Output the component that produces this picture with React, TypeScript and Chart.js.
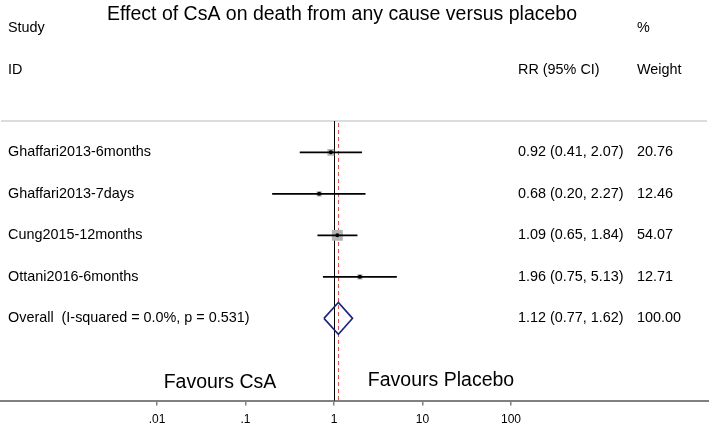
import React, { useEffect, useRef } from "react";
import { Chart, registerables } from "chart.js";
Chart.register(...registerables);

const titleText = "Effect of CsA on death from any cause versus placebo";
const studies = ["Ghaffari2013-6months", "Ghaffari2013-7days", "Cung2015-12months", "Ottani2016-6months"];
const rr = [0.92, 0.68, 1.09, 1.96];
const lower = [0.41, 0.2, 0.65, 0.75];
const upper = [2.07, 2.27, 1.84, 5.13];
const weights = [20.76, 12.46, 54.07, 12.71];
const overallLabel = "Overall  (I-squared = 0.0%, p = 0.531)";
const overallRR = 1.12;
const overallLower = 0.77;
const overallUpper = 1.62;
const overallWeight = 100.0;
const tickValues = [0.01, 0.1, 1, 10, 100];
const tickLabels = [".01", ".1", "1", "10", "100"];

const FONT = "'Liberation Sans', Arial, sans-serif";

export default function App() {
  const ref = useRef<HTMLCanvasElement | null>(null);
  useEffect(() => {
    if (!ref.current) return;
    Chart.defaults.font.family = FONT;
    const n = studies.length;
    const ciDatasets: any[] = studies.map((s, i) => ({
      type: "line",
      data: [{ x: lower[i], y: i }, { x: upper[i], y: i }],
      borderColor: "#000",
      borderWidth: 1.8,
      pointRadius: 0,
      order: 1,
    }));
    const dh = 0.385;
    const textPlugin = {
      id: "forestText",
      beforeDatasetsDraw(chart: any) {
        const { ctx, chartArea, scales } = chart;
        const xs = scales.x;
        ctx.save();
        ctx.strokeStyle = "#d0d0d0";
        ctx.lineWidth = 1.5;
        ctx.beginPath();
        ctx.moveTo(1, 121);
        ctx.lineTo(707, 121);
        ctx.stroke();
        const x1 = Math.round(xs.getPixelForValue(1)) + 0.5;
        ctx.strokeStyle = "#000";
        ctx.lineWidth = 1;
        ctx.beginPath();
        ctx.moveTo(x1, 121);
        ctx.lineTo(x1, chartArea.bottom);
        ctx.stroke();
        const xo = Math.round(xs.getPixelForValue(overallRR)) + 0.5;
        ctx.strokeStyle = "#d9534f";
        ctx.setLineDash([4, 3]);
        ctx.beginPath();
        ctx.moveTo(xo, 123);
        ctx.lineTo(xo, chartArea.bottom);
        ctx.stroke();
        ctx.restore();
      },
      afterDraw(chart: any) {
        const { ctx, scales } = chart;
        const ys = scales.y;
        ctx.save();
        ctx.fillStyle = "#000";
        ctx.textBaseline = "alphabetic";
        ctx.textAlign = "center";
        ctx.font = `19.5px ${FONT}`;
        ctx.fillText(titleText, 342, 20);
        ctx.textAlign = "left";
        ctx.textBaseline = "middle";
        ctx.font = `14.4px ${FONT}`;
        ctx.fillText("Study", 8, 28);
        ctx.fillText("ID", 8, 70);
        ctx.fillText("RR (95% CI)", 518, 70);
        ctx.fillText("%", 637, 28);
        ctx.fillText("Weight", 637, 70);
        const labels = [...studies, overallLabel];
        const r = [...rr, overallRR];
        const lo = [...lower, overallLower];
        const hi = [...upper, overallUpper];
        const w = [...weights, overallWeight];
        labels.forEach((lab, i) => {
          const y = ys.getPixelForValue(i);
          ctx.fillText(lab, 8, y);
          ctx.fillText(`${r[i].toFixed(2)} (${lo[i].toFixed(2)}, ${hi[i].toFixed(2)})`, 518, y);
          ctx.fillText(w[i].toFixed(2), 637, y);
        });
        ctx.font = `19.5px ${FONT}`;
        ctx.textAlign = "center";
        ctx.fillText("Favours CsA", 220, 383);
        ctx.fillText("Favours Placebo", 441, 381);
        ctx.restore();
      },
    };
    const chart = new Chart(ref.current, {
      type: "scatter",
      data: {
        datasets: [
          ...ciDatasets,
          {
            type: "scatter",
            data: rr.map((v, i) => ({ x: v, y: i })),
            pointStyle: "rect",
            pointRadius: weights.map((w) => 1.05 * Math.sqrt(w)),
            backgroundColor: "#b3b3b3",
            borderWidth: 0,
            order: 2,
          },
          {
            type: "scatter",
            data: rr.map((v, i) => ({ x: v, y: i })),
            pointStyle: "circle",
            pointRadius: 2,
            backgroundColor: "#000",
            borderWidth: 0,
            order: 0,
          },
          {
            type: "line",
            data: [
              { x: overallLower, y: n },
              { x: overallRR, y: n - dh },
              { x: overallUpper, y: n },
              { x: overallRR, y: n + dh },
              { x: overallLower, y: n },
            ],
            borderColor: "#1c237a",
            borderWidth: 1.6,
            pointRadius: 0,
            fill: false,
            order: 1,
          },
        ] as any,
      },
      options: {
        animation: false,
        responsive: true,
        maintainAspectRatio: false,
        layout: { autoPadding: false, padding: { left: 0, right: 0, top: 0, bottom: -5 } },
        plugins: { legend: { display: false }, tooltip: { enabled: false }, title: { display: false } },
        scales: {
          x: {
            type: "logarithmic",
            min: Math.pow(10, -3.774),
            max: Math.pow(10, 4.237),
            afterBuildTicks: (axis: any) => {
              axis.ticks = tickValues.map((v) => ({ value: v }));
            },
            ticks: {
              autoSkip: false,
              maxRotation: 0,
              color: "#000",
              padding: 7,
              font: { size: 12, family: FONT },
              callback: (_v: any, i: number) => tickLabels[i],
            },
            grid: { drawOnChartArea: false, drawTicks: true, tickLength: 5, color: "#808080", lineWidth: 1.5 },
            border: { color: "#808080", width: 2 },
          },
          y: {
            type: "linear",
            reverse: true,
            min: -3.67,
            max: 5.981,
            display: false,
          },
        },
      } as any,
      plugins: [textPlugin],
    });
    return () => chart.destroy();
  }, []);
  return (
    <div style={{ position: "fixed", left: 0, top: 0, width: 709, height: 429, background: "#fff" }}>
      <canvas ref={ref} />
    </div>
  );
}
